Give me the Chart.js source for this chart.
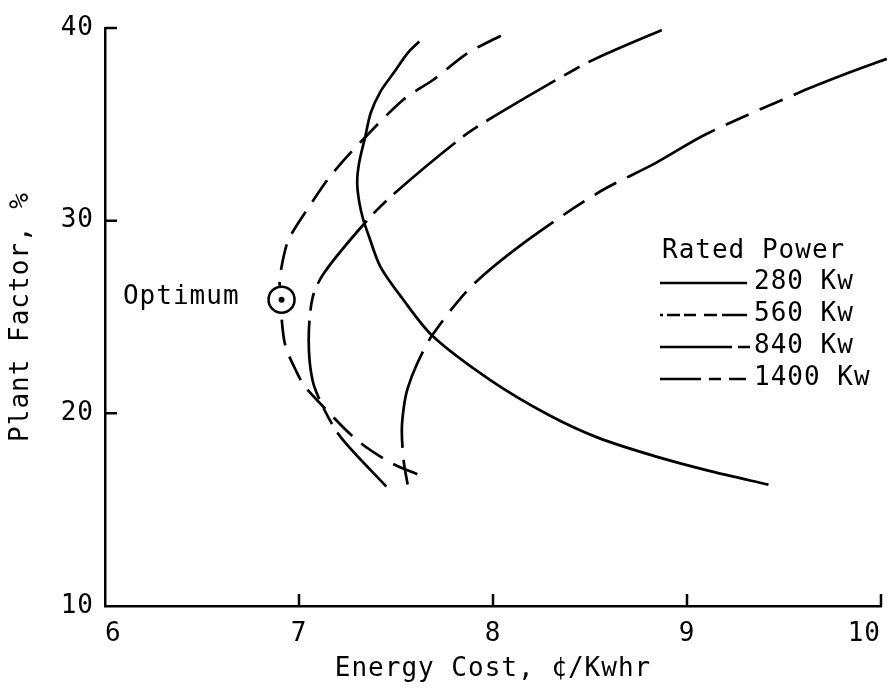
<!DOCTYPE html>
<html>
<head>
<meta charset="utf-8">
<script src="https://cdn.jsdelivr.net/npm/chart.js@4"></script>
<style>
  html, body { margin: 0; padding: 0; background: #fff; }
  #wrap { position: relative; width: 887px; height: 696px; }
</style>
</head>
<body>
<div id="wrap"><canvas id="cost-chart"></canvas></div>
<script>
// axis ranges / ticks
const costTicks = [6, 7, 8, 9, 10];
const factorTicks = [10, 20, 30, 40];

// Rated power curves (energy cost in cents/Kwhr vs plant factor in %)
const kw280Cost   = [7.62, 7.56, 7.49, 7.42, 7.37, 7.34, 7.31, 7.30, 7.31, 7.33, 7.36, 7.42, 7.53, 7.69, 7.99, 8.29, 8.55, 8.86, 9.12, 9.42];
const kw280Factor = [39.3, 38.7, 37.7, 36.7, 35.6, 34.3, 33.0, 32.0, 31.0, 30.1, 29.2, 27.6, 26.0, 24.0, 21.7, 19.9, 18.7, 17.7, 17.0, 16.3];

const kw560Cost   = [8.04, 7.87, 7.69, 7.54, 7.31, 7.16, 7.07, 6.95, 6.92, 6.90, 6.91, 6.91, 6.93, 6.99, 7.03, 7.12, 7.30, 7.48, 7.62];
const kw560Factor = [39.6, 38.7, 37.3, 36.3, 34.0, 32.3, 31.0, 29.1, 28.1, 26.8, 25.9, 25.0, 23.5, 22.1, 21.4, 20.4, 18.6, 17.4, 16.8];

const kw840Cost   = [8.87, 8.57, 8.43, 8.02, 7.85, 7.49, 7.35, 7.13, 7.07, 7.05, 7.07, 7.13, 7.22, 7.45];
const kw840Factor = [39.9, 38.6, 37.9, 35.5, 34.4, 31.4, 30.0, 27.3, 26.0, 23.8, 21.7, 20.2, 18.7, 16.2];

const kw1400Cost   = [10.03, 9.84, 9.59, 9.10, 8.84, 8.55, 8.18, 7.89, 7.69, 7.61, 7.56, 7.54, 7.53, 7.54, 7.56];
const kw1400Factor = [38.4, 37.7, 36.7, 34.5, 33.0, 31.5, 29.0, 26.6, 24.1, 22.6, 21.3, 20.3, 19.1, 17.5, 16.3];

const optimumCost = [6.91];
const optimumFactor = [25.9];

const legendLabels = ['280 Kw', '560 Kw', '840 Kw', '1400 Kw'];

const FONT = '"DejaVu Sans Mono", monospace';
const SPACING = '1px';

function pts(xs, ys) {
    return xs.map((x, i) => ({ x: x, y: ys[i] }));
}

function curve(label, xs, ys, dash) {
    return {
        label: label,
        data: pts(xs, ys),
        showLine: true,
        borderColor: '#000',
        borderWidth: 2.7,
        borderDash: dash,
        pointRadius: 0,
        tension: 0.3,
        fill: false,
        order: 2
    };
}

// inward tick marks, legend box and the "Optimum" note
const paperPlugin = {
    id: 'paper',
    beforeUpdate(chart) { chart.ctx.letterSpacing = SPACING; },
    beforeDraw(chart) { chart.ctx.letterSpacing = SPACING; },
    afterDraw(chart) {
        const ctx = chart.ctx;
        const xs = chart.scales.x, ys = chart.scales.y;
        const area = chart.chartArea;
        ctx.save();
        ctx.strokeStyle = '#000';
        ctx.lineWidth = 2.5;
        ctx.beginPath();
        factorTicks.slice(1).forEach(v => {
            const py = ys.getPixelForValue(v);
            ctx.moveTo(area.left, py);
            ctx.lineTo(area.left + 12, py);
        });
        costTicks.slice(1).forEach(v => {
            const px = xs.getPixelForValue(v);
            ctx.moveTo(px, area.bottom);
            ctx.lineTo(px, area.bottom - 12);
        });
        ctx.stroke();

        // legend
        ctx.letterSpacing = SPACING;
        ctx.fillStyle = '#000';
        ctx.font = '26px ' + FONT;
        ctx.textBaseline = 'middle';
        ctx.textAlign = 'left';
        ctx.fillText('Rated Power', 662, 251);
        const rows = [282, 314, 346, 378];
        const samples = [
            [[660, 747]],
            [[660, 663], [667, 680], [684, 696], [704, 717], [722, 747]],
            [[660, 732], [738, 750]],
            [[660, 701], [709, 721], [729, 746]]
        ];
        ctx.lineWidth = 2.6;
        rows.forEach((y, i) => {
            ctx.beginPath();
            samples[i].forEach(s => { ctx.moveTo(s[0], y + 1); ctx.lineTo(s[1], y + 1); });
            ctx.stroke();
            ctx.fillText(legendLabels[i], 754, y);
        });

        ctx.textAlign = 'right';
        const ox = xs.getPixelForValue(optimumCost[0]);
        const oy = ys.getPixelForValue(optimumFactor[0]);
        ctx.fillText('Optimum', ox - 42, oy - 2);
        ctx.restore();
    }
};

const data = {
    datasets: [
        {
            label: 'Optimum dot',
            data: pts(optimumCost, optimumFactor),
            pointRadius: 3,
            pointBackgroundColor: '#000',
            pointBorderWidth: 0,
            order: 0
        },
        {
            label: 'Optimum',
            data: pts(optimumCost, optimumFactor),
            pointRadius: 13,
            pointBackgroundColor: '#fff',
            pointBorderColor: '#000',
            pointBorderWidth: 2.5,
            order: 1
        },
        curve('280 Kw', kw280Cost, kw280Factor, []),
        curve('560 Kw', kw560Cost, kw560Factor, [26, 12]),
        curve('840 Kw', kw840Cost, kw840Factor, [80, 10, 18, 10]),
        Object.assign(curve('1400 Kw', kw1400Cost, kw1400Factor, [100, 12, 25, 12, 25, 12]), { clip: false })
    ]
};

const tickFont = { family: FONT, size: 26 };

const config = {
    type: 'scatter',
    data: data,
    options: {
        responsive: true,
        maintainAspectRatio: false,
        animation: false,
        layout: { autoPadding: false, padding: { left: 0, top: 28, right: 6, bottom: 0 } },
        plugins: {
            legend: { display: false },
            tooltip: { enabled: false }
        },
        scales: {
            x: {
                type: 'linear',
                min: 6,
                max: 10,
                grid: { display: false, drawTicks: false },
                border: { display: true, color: '#000', width: 2.5 },
                ticks: { stepSize: 1, color: '#000', font: tickFont, padding: 13, align: 'inner' },
                title: {
                    display: true,
                    text: 'Energy Cost, ¢/Kwhr',
                    color: '#000',
                    font: tickFont,
                    padding: { top: 0, bottom: 11 }
                },
                afterFit(scale) {
                    scale.height = 90;
                    scale.paddingLeft = 0;
                    scale.paddingRight = 0;
                }
            },
            y: {
                type: 'linear',
                min: 10,
                max: 40,
                grid: { display: false, drawTicks: false },
                border: { display: true, color: '#000', width: 2.5 },
                ticks: { stepSize: 10, color: '#000', font: tickFont, padding: 11 },
                title: {
                    display: true,
                    text: 'Plant Factor, %',
                    color: '#000',
                    font: tickFont,
                    padding: { top: 6, bottom: 0 }
                },
                afterFit(scale) {
                    scale.width = 105;
                    scale.paddingTop = 0;
                    scale.paddingBottom = 0;
                }
            }
        }
    },
    plugins: [paperPlugin]
};

new Chart(document.getElementById('cost-chart'), config);
</script>
</body>
</html>
